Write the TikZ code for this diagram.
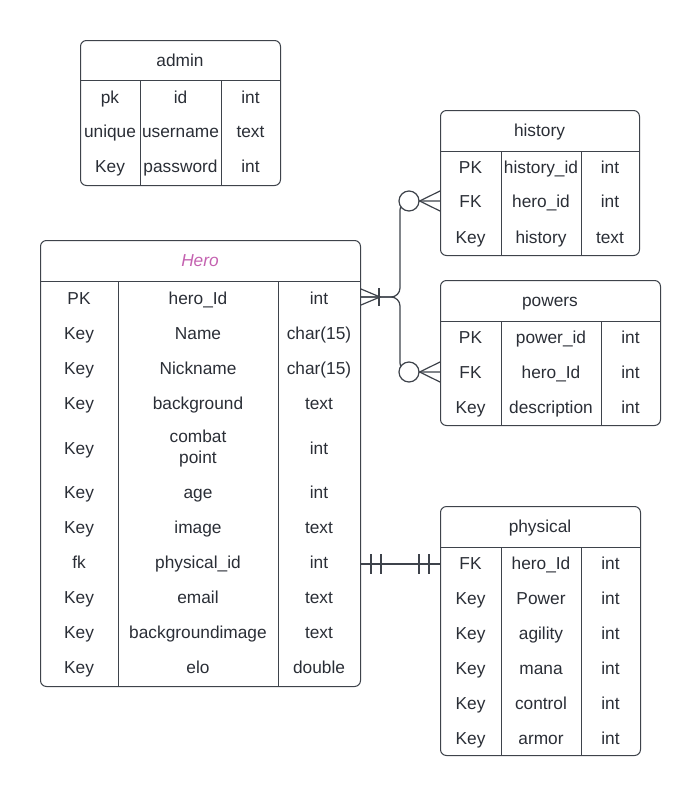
\documentclass[tikz,border=0pt]{standalone}
\usepackage{fontspec}
\setmainfont{Liberation Sans}
\usetikzlibrary{positioning}
\definecolor{inkline}{RGB}{62,67,75}
\definecolor{inktext}{RGB}{42,46,54}
\definecolor{herotitle}{RGB}{196,98,176}
\tikzset{
  tablebox/.style={draw=inkline,line width=1pt,rounded corners=6pt,
    anchor=north west,inner sep=0pt},
  grid/.style={draw=inkline,line width=1pt},
  cell/.style={text=inktext,font=\fontsize{17.3}{21}\selectfont,inner sep=0pt,
    text height=13pt,text depth=0pt},
  link/.style={draw=inkline,line width=1.2pt},
  optring/.style={circle,draw=inkline,line width=1.2pt,fill=white,
    minimum size=20pt,inner sep=0pt}
}
\begin{document}
\begin{tikzpicture}[x=1pt,y=-1pt]
\useasboundingbox (0,0) rectangle (700,796);

% admin
\node [tablebox,minimum width=200pt,minimum height=145pt] (admin) at (80,40) {};
\draw [grid] (admin.west |- 0,80) -- (admin.east |- 0,80);
\draw [grid] (140,80) -- (140,185);
\draw [grid] (221,80) -- (221,185);
\node [cell] (admin-title) at (180,60) {admin};
\foreach \y/\a/\b/\c [count=\i] in {97/pk/id/int,131/unique/username/text,166/Key/password/int}{
  \node [cell] (admin-\i-a) at (110,\y) {\a};
  \node [cell] (admin-\i-b) at (180.5,\y) {\b};
  \node [cell] (admin-\i-c) at (250.5,\y) {\c};
}

% history
\node [tablebox,minimum width=199pt,minimum height=145pt] (history) at (440,110) {};
\draw [grid] (history.west |- 0,151) -- (history.east |- 0,151);
\draw [grid] (501,151) -- (501,255);
\draw [grid] (581,151) -- (581,255);
\node [cell] (history-title) at (539.5,130) {history};
\foreach \y/\a/\b/\c [count=\i] in {167/PK/history\_id/int,201/FK/hero\_id/int,237/Key/history/text}{
  \node [cell] (history-\i-a) at (470.5,\y) {\a};
  \node [cell] (history-\i-b) at (541,\y) {\b};
  \node [cell] (history-\i-c) at (610,\y) {\c};
}

% powers
\node [tablebox,minimum width=220pt,minimum height=145pt] (powers) at (440,280) {};
\draw [grid] (powers.west |- 0,321) -- (powers.east |- 0,321);
\draw [grid] (501,321) -- (501,425);
\draw [grid] (601,321) -- (601,425);
\node [cell] (powers-title) at (550,300) {powers};
\foreach \y/\a/\b/\c [count=\i] in {337/PK/power\_id/int,372/FK/hero\_Id/int,407/Key/description/int}{
  \node [cell] (powers-\i-a) at (470.5,\y) {\a};
  \node [cell] (powers-\i-b) at (551,\y) {\b};
  \node [cell] (powers-\i-c) at (630.5,\y) {\c};
}

% Hero
\node [tablebox,minimum width=320pt,minimum height=446pt] (hero) at (40,240) {};
\draw [grid] (hero.west |- 0,281) -- (hero.east |- 0,281);
\draw [grid] (118,281) -- (118,686);
\draw [grid] (278,281) -- (278,686);
\node [cell,text=herotitle,font=\fontsize{17.3}{21}\selectfont\itshape] (hero-title) at (200,260) {Hero};
\foreach \y/\a/\b/\c [count=\i] in {298/PK/hero\_Id/int,333/Key/Name/char(15),368/Key/Nickname/char(15),
    403/Key/background/text,492/Key/age/int,527/Key/image/text,562/fk/physical\_id/int,
    597/Key/email/text,632/Key/backgroundimage/text,667/Key/elo/double}{
  \node [cell] (hero-\i-a) at (79,\y) {\a};
  \node [cell] (hero-\i-b) at (198,\y) {\b};
  \node [cell] (hero-\i-c) at (319,\y) {\c};
}
\node [cell] (hero-combat-a) at (79,448) {Key};
\node [cell,align=center,text height=,text depth=] (hero-combat-b) at (198,449) {combat\\point};
\node [cell] (hero-combat-c) at (319,448) {int};

% physical
\node [tablebox,minimum width=200pt,minimum height=249pt] (physical) at (440,506) {};
\draw [grid] (physical.west |- 0,547) -- (physical.east |- 0,547);
\draw [grid] (501,547) -- (501,755);
\draw [grid] (581,547) -- (581,755);
\node [cell] (physical-title) at (540,526) {physical};
\foreach \y/\a/\b/\c [count=\i] in {563/FK/hero\_Id/int,598/Key/Power/int,633/Key/agility/int,
    668/Key/mana/int,703/Key/control/int,738/Key/armor/int}{
  \node [cell] (physical-\i-a) at (470.5,\y) {\a};
  \node [cell] (physical-\i-b) at (541,\y) {\b};
  \node [cell] (physical-\i-c) at (610.5,\y) {\c};
}

% hero -> history, powers
\coordinate (fork) at (400,297);
\coordinate (hist-end) at (history.west |- 0,201);
\coordinate (pow-end) at (powers.west |- 0,372);
\draw [link,rounded corners=9pt] (hero.east |- fork) -- (fork) |- (hist-end);
\draw [link,rounded corners=9pt] (hero.east |- fork) -- (fork) |- (pow-end);
\draw [link] (hero.east |- 0,289) -- (380,297) -- (hero.east |- 0,305);
\draw [link] (379,288) -- (379,306);
\node [optring] (hist-ring) at ([xshift=-31pt]hist-end) {};
\node [optring] (pow-ring) at ([xshift=-31pt]pow-end) {};
\draw [link] ([yshift=-10pt]hist-end) -- (hist-ring.east) -- ([yshift=10pt]hist-end);
\draw [link] ([yshift=-10pt]pow-end) -- (pow-ring.east) -- ([yshift=10pt]pow-end);

% hero -> physical
\coordinate (phys-end) at (physical.west |- 0,564);
\draw [link] (hero.east |- phys-end) -- (phys-end);
\foreach \x in {371,381,419,429}
  \draw [link] (\x,554) -- (\x,574);
\end{tikzpicture}
\end{document}
